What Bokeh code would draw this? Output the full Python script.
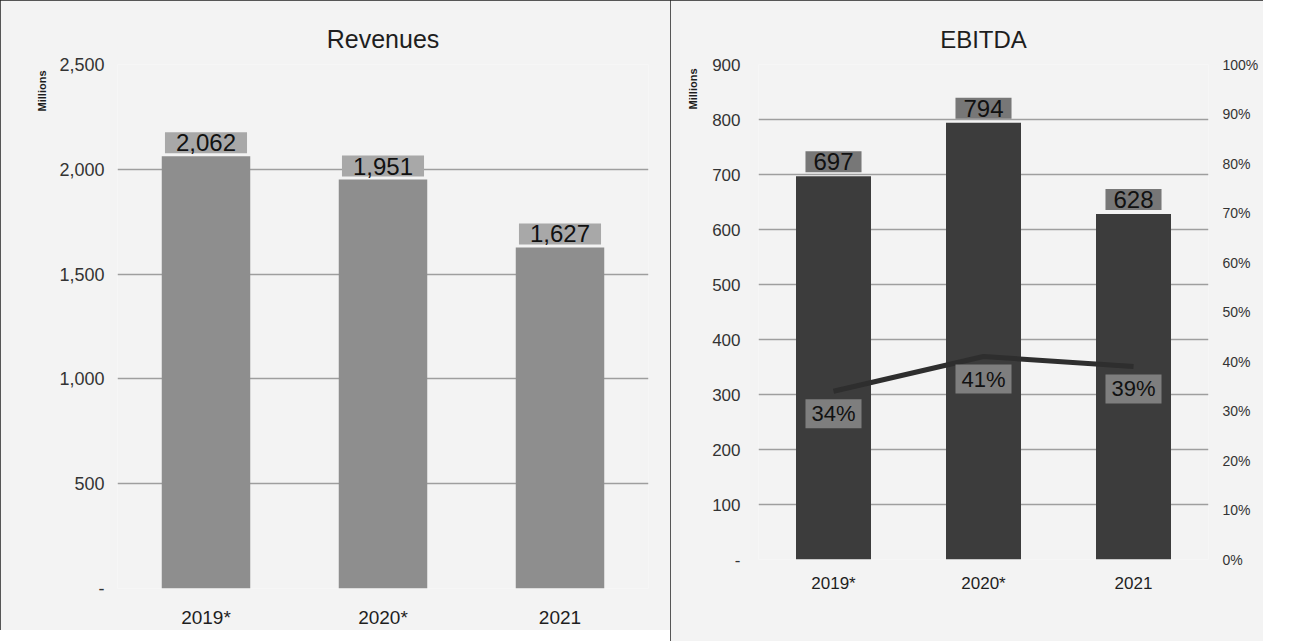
from bokeh.plotting import figure
from bokeh.models import (Range1d, LinearAxis, FixedTicker, ColumnDataSource, Title,
                          Legend, LegendItem, FactorRange)
from bokeh.layouts import gridplot
from bokeh.embed import file_html
from bokeh.resources import INLINE
from bokeh.core.properties import value

# ---------------- data ----------------
years = ["2019*", "2020*", "2021"]

revenues = [2062, 1951, 1627]
rev_labels = ["2,062", "1,951", "1,627"]
rev_ticks = [0, 500, 1000, 1500, 2000, 2500]
rev_tick_labels = ["-", "500", "1,000", "1,500", "2,000", "2,500"]

ebitda = [697, 794, 628]
ebitda_labels = ["697", "794", "628"]
ebitda_margin = [0.34, 0.41, 0.39]
margin_labels = ["34%", "41%", "39%"]
ebitda_ticks = [0, 100, 200, 300, 400, 500, 600, 700, 800, 900]
ebitda_tick_labels = ["-", "100", "200", "300", "400", "500", "600", "700", "800", "900"]
pct_ticks = [0.0, 0.1, 0.2, 0.3, 0.4, 0.5, 0.6, 0.7, 0.8, 0.9, 1.0]
pct_tick_labels = ["0%", "10%", "20%", "30%", "40%", "50%", "60%", "70%", "80%", "90%", "100%"]

# ---------------- style ----------------
BG = "#f3f3f3"
GRID = "#9e9e9e"
TXT = "#1e1e1e"
FONT = "Liberation Sans"
BORDER = {"outline": "1px solid #222222", "outline-offset": "-1px"}


def style_axes(p, size, standoff_y, standoff_x, xsize):
    for ax in list(p.yaxis) + list(p.xaxis):
        ax.axis_line_color = None
        ax.major_tick_line_color = None
        ax.minor_tick_line_color = None
        ax.major_tick_out = 0
        ax.major_tick_in = 0
        ax.major_label_text_font = FONT
    for ax in p.yaxis:
        ax.major_label_text_color = "#333333"
        ax.major_label_text_font_size = size
        ax.major_label_standoff = standoff_y
    for ax in p.xaxis:
        ax.major_label_text_color = TXT
        ax.major_label_text_font_size = xsize
        ax.major_label_standoff = standoff_x


# ---------------- Revenues ----------------
p1 = figure(x_range=FactorRange(*years), y_range=Range1d(0, 2500),
            frame_width=531, frame_height=524, output_backend="svg", toolbar_location=None,
            min_border_left=117, min_border_right=22, min_border_top=64, min_border_bottom=40,
            background_fill_color=BG, border_fill_color=BG, outline_line_color=None,
            styles=BORDER)
p1.title.text = "Revenues"
p1.title.align = "center"
p1.title.offset = -44
p1.title.standoff = 24
p1.title.text_font = FONT
p1.title.text_font_size = "25px"
p1.title.text_font_style = "normal"
p1.title.text_color = TXT

src1 = ColumnDataSource(dict(x=years, top=revenues, label=rev_labels))
p1.vbar(x="x", top="top", width=0.5, source=src1, fill_color="#8e8e8e", line_color=None)
p1.text(x="x", y="top", text="label", source=src1, anchor="bottom_center", y_offset=-3,
        text_font=value(FONT), text_font_size="24px", text_color="#111111",
        background_fill_color="#a8a8a8",
        padding=dict(left=11, right=11, top=2, bottom=2))

p1.yaxis.ticker = FixedTicker(ticks=rev_ticks)
p1.yaxis.major_label_overrides = dict(zip(rev_ticks, rev_tick_labels))
p1.ygrid.ticker = FixedTicker(ticks=rev_ticks)
p1.ygrid.grid_line_color = GRID
p1.ygrid.grid_line_width = 1.5
p1.xgrid.grid_line_color = None
style_axes(p1, "18px", 13, 18, "19px")

p1.add_layout(Title(text="Millions", align="right", offset=6, standoff=18,
                    text_font=FONT, text_font_size="11px", text_font_style="bold",
                    text_color=TXT), "left")

# ---------------- EBITDA ----------------
p2 = figure(x_range=FactorRange(*years), y_range=Range1d(0, 900),
            frame_width=450, frame_height=495, output_backend="svg", toolbar_location=None,
            min_border_left=88, min_border_right=55, min_border_top=60, min_border_bottom=73,
            background_fill_color=BG, border_fill_color=BG, outline_line_color=None,
            styles=BORDER)
p2.title.text = "EBITDA"
p2.title.align = "center"
p2.title.offset = -15
p2.title.standoff = 24
p2.title.text_font = FONT
p2.title.text_font_size = "24px"
p2.title.text_font_style = "normal"
p2.title.text_color = TXT

p2.extra_y_ranges = {"pct": Range1d(0, 1)}

src2 = ColumnDataSource(dict(x=years, top=ebitda, label=ebitda_labels,
                             m=ebitda_margin, mlabel=margin_labels))
bars = p2.vbar(x="x", top="top", width=0.5, source=src2, fill_color="#3c3c3c", line_color=None)
ln = p2.line(x="x", y="m", source=src2, y_range_name="pct", line_width=5, line_color="#2e2e2e")
p2.text(x="x", y="top", text="label", source=src2, anchor="bottom_center", y_offset=-4,
        text_font=value(FONT), text_font_size="24px", text_color="#111111",
        background_fill_color="#777777",
        padding=dict(left=8, right=8, top=2, bottom=2))
p2.text(x="x", y="m", text="mlabel", source=src2, y_range_name="pct",
        anchor="top_center", y_offset=8,
        text_font=value(FONT), text_font_size="22px", text_color="#111111",
        background_fill_color="#7e7e7e",
        padding=dict(left=6, right=6, top=2, bottom=2))

p2.yaxis.ticker = FixedTicker(ticks=ebitda_ticks)
p2.yaxis.major_label_overrides = dict(zip(ebitda_ticks, ebitda_tick_labels))
pax = LinearAxis(y_range_name="pct", ticker=FixedTicker(ticks=pct_ticks),
                 major_label_overrides=dict(zip(pct_ticks, pct_tick_labels)))
p2.add_layout(pax, "right")
p2.ygrid.ticker = FixedTicker(ticks=ebitda_ticks)
p2.ygrid.grid_line_color = GRID
p2.ygrid.grid_line_width = 1.5
p2.xgrid.grid_line_color = None
style_axes(p2, "17px", 18, 14, "17px")
pax.major_label_text_font_size = "14px"
pax.major_label_standoff = 14

legend = Legend(items=[LegendItem(label="EBITDA", renderers=[bars]),
                       LegendItem(label="EBITDA Margin", renderers=[ln])],
                orientation="horizontal", location="center",
                background_fill_alpha=0, border_line_color=None,
                label_text_font=FONT, label_text_font_size="16px", label_text_color=TXT,
                glyph_width=26, glyph_height=9, spacing=14, padding=0, margin=6,
                label_standoff=2)
p2.add_layout(legend, "below")

p2.add_layout(Title(text="Millions", align="right", offset=4, standoff=22,
                    text_font=FONT, text_font_size="11px", text_font_style="bold",
                    text_color=TXT), "left")

layout = gridplot([[p1, p2]], toolbar_location=None)
open("out.html", "w").write(file_html(layout, INLINE))
